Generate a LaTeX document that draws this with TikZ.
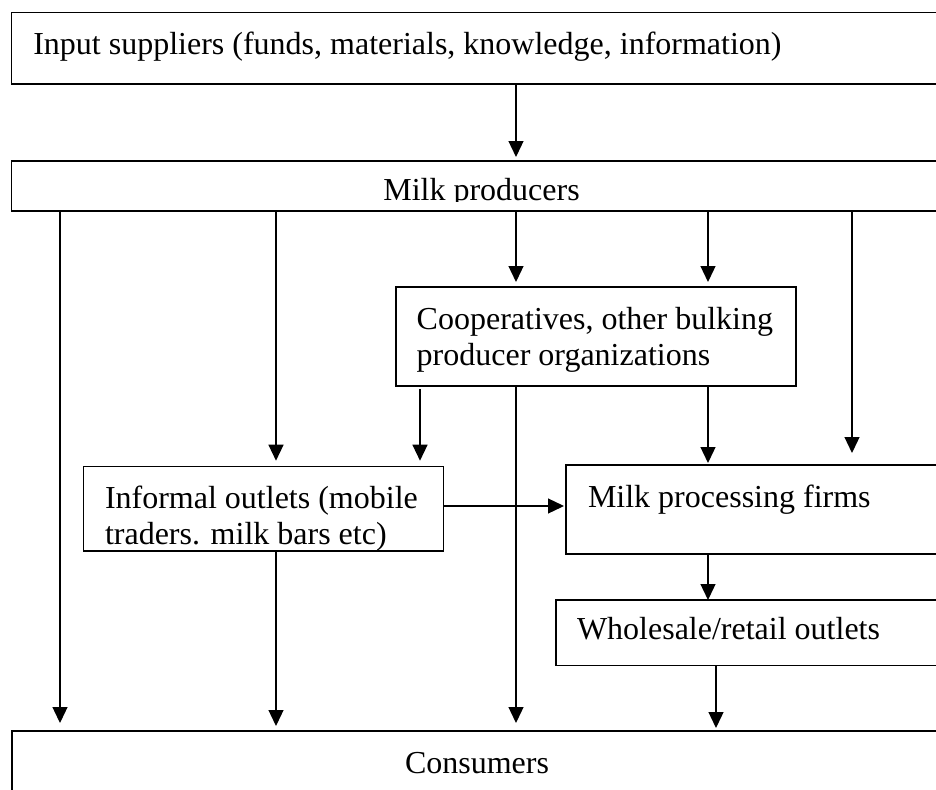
\documentclass[tikz,border=0pt]{standalone}
\usepackage{fontspec}
\setmainfont{Liberation Serif}
\usetikzlibrary{arrows.meta}
\begin{document}
\begin{tikzpicture}[x=1pt,y=-1pt,
  box/.style={draw=black, line width=1.5pt, rectangle, inner sep=0pt, outer sep=0pt, anchor=north west},
  lbl/.style={inner sep=0pt, outer sep=0pt, anchor=base west, font=\fontsize{32}{36}\selectfont},
  flow/.style={draw=black, line width=1.3pt, -{Triangle[length=16pt,width=15pt]}}]
\useasboundingbox (0,0) rectangle (936,789);
\clip (0,0) rectangle (936,789);
% boxes
\node[box, minimum width=933.3pt, minimum height=71.7pt] (top) at (11.7,12.3) {};
\node[box, minimum width=933.3pt, minimum height=50pt] (milk) at (11.7,161) {};
\node[box, minimum width=400pt, minimum height=99pt] (coop) at (396,287) {};
\node[box, minimum width=360pt, minimum height=84.3pt] (inf) at (83.6,466.7) {};
\node[box, minimum width=379pt, minimum height=89pt] (proc) at (566,465) {};
\node[box, minimum width=389pt, minimum height=65.7pt] (whole) at (556,600) {};
\node[box, minimum width=933pt, minimum height=80pt] (cons) at (12,731) {};
% texts
\node[lbl] (tin) at (33.3,55) {Input suppliers (funds, materials, knowledge, information)};
\begin{scope}
  \clip (11.7,161) rectangle (945,201);
  \node[lbl] (tmilk) at (383.3,200.5) {Milk producers};
\end{scope}
\node[lbl] (tcoop) at (416.7,329) {\begin{tabular}[t]{@{}l@{}}Cooperatives, other bulking\\producer organizations\end{tabular}};
\begin{scope}
  \clip (inf.north west) rectangle (inf.south east);
  \node[lbl] (tinf) at (105,508) {\begin{tabular}[t]{@{}l@{}}Informal outlets (mobile\\traders. milk bars etc)\end{tabular}};
\end{scope}
\node[lbl] (tproc) at (588,507) {Milk processing firms};
\node[lbl] (twhole) at (577,639) {Wholesale/retail outlets};
\node[lbl] (tcons) at (405,773) {Consumers};
% x positions
\coordinate (xa) at (60,0);
\coordinate (xb) at (276,0);
\coordinate (xc) at (420,0);
\coordinate (xd) at (516,0);
\coordinate (xe) at (708,0);
\coordinate (xf) at (716,0);
\coordinate (xg) at (852,0);
\coordinate (yh) at (0,506);
% connectors
\draw[flow, shorten >=4pt] (top.south -| xd) -- (milk.north -| xd);
\draw[flow, shorten >=8pt] (milk.south -| xa) -- (cons.north -| xa);
\draw[flow, shorten >=6pt] (milk.south -| xb) -- (inf.north -| xb);
\draw[flow, shorten >=5pt] (milk.south -| xd) -- (coop.north -| xd);
\draw[flow, shorten >=5pt] (milk.south -| xe) -- (coop.north -| xe);
\draw[flow, shorten >=12pt] (milk.south -| xg) -- (proc.north -| xg);
\draw[flow, shorten <=3pt, shorten >=6pt] (coop.south -| xc) -- (inf.north -| xc);
\draw[flow, shorten >=8pt] (coop.south -| xd) -- (cons.north -| xd);
\draw[flow, shorten >=2pt] (coop.south -| xe) -- (proc.north -| xe);
\draw[flow, shorten >=2pt] (inf.east |- yh) -- (proc.west |- yh);
\draw[flow] (proc.south -| xe) -- (whole.north -| xe);
\draw[flow, shorten >=5pt] (inf.south -| xb) -- (cons.north -| xb);
\draw[flow, shorten >=3pt] (whole.south -| xf) -- (cons.north -| xf);
\end{tikzpicture}
\end{document}
